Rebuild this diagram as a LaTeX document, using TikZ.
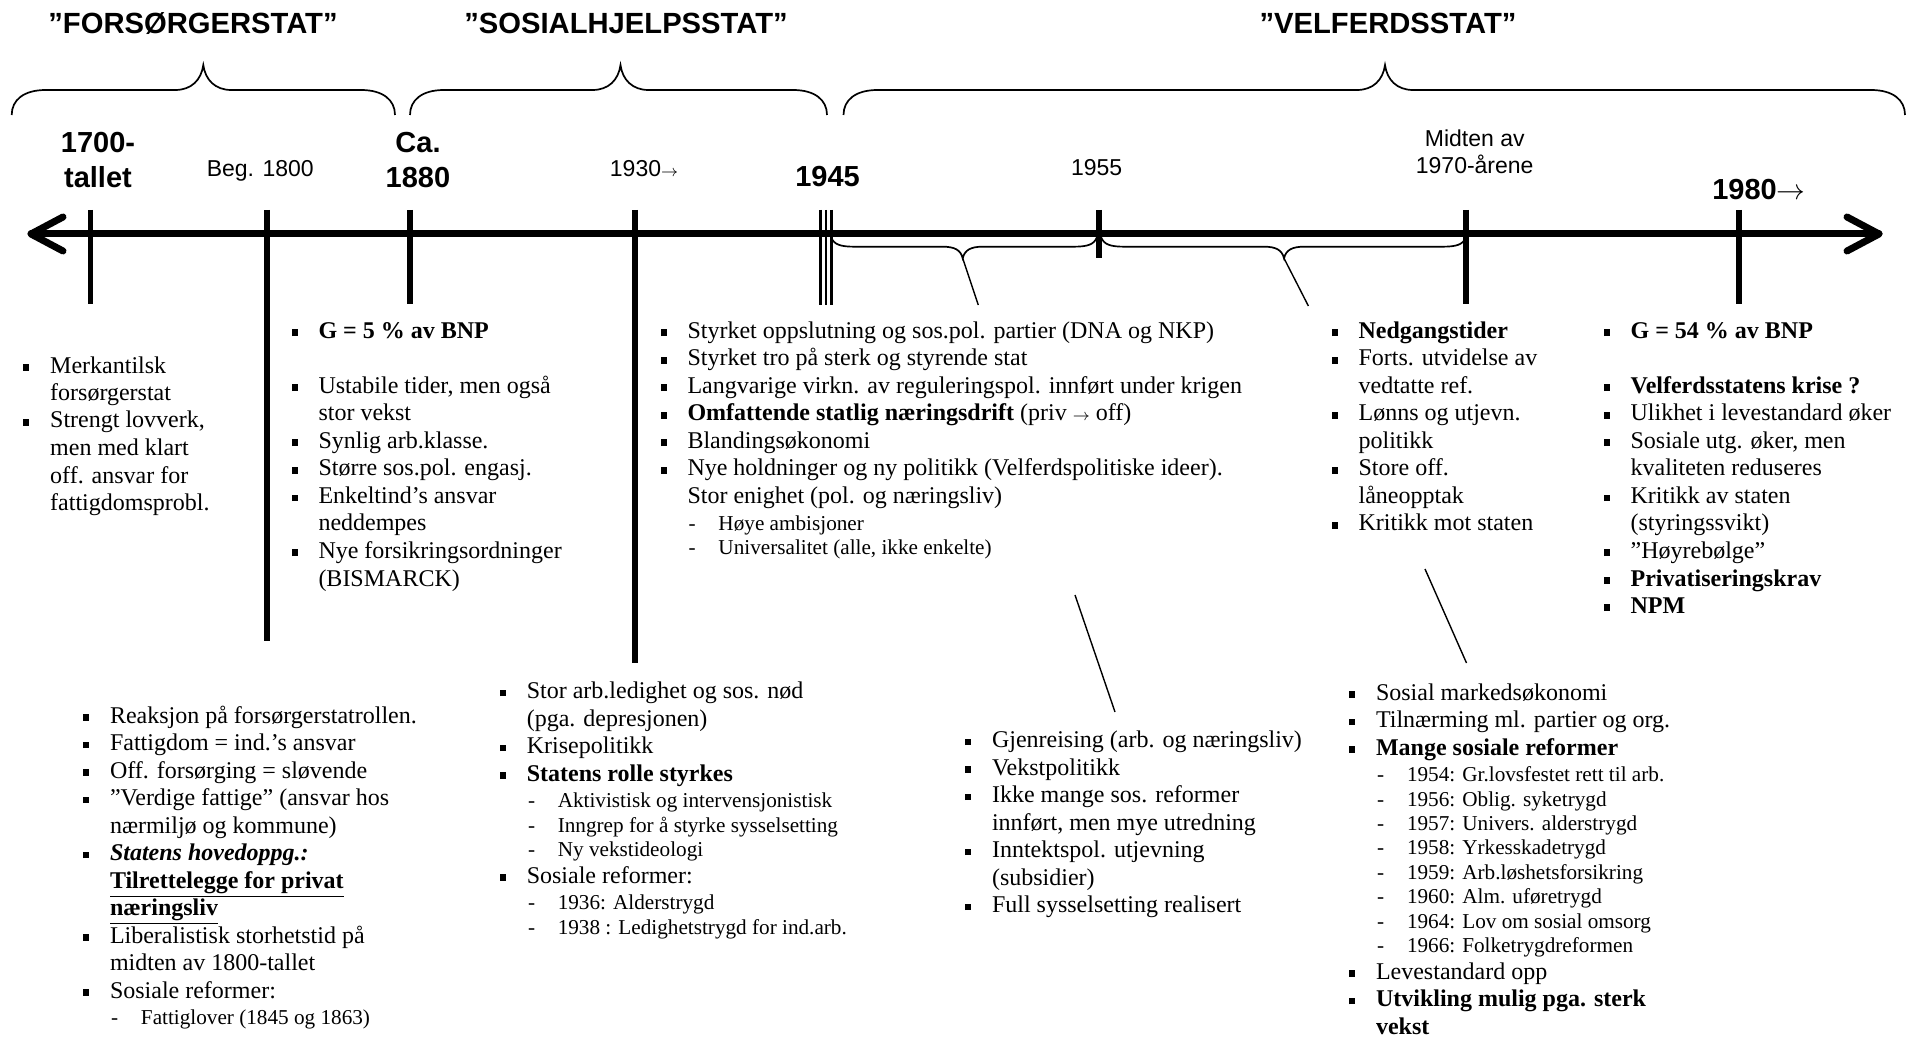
\documentclass[tikz,border=0pt]{standalone}
\usepackage{fontspec}
\setmainfont{Liberation Serif}
\newfontfamily\arial{Liberation Sans}
\usetikzlibrary{calc}

% list typography
\newcommand\mainsize{\fontsize{12.0}{13.75}\selectfont}
\newcommand\subsize{\fontsize{10.6}{12.2}\selectfont}
\newcommand\bulsq{\rule[1.2pt]{3pt}{3.3pt}}
\newcommand\itm[1]{\par\noindent\llap{\bulsq\hspace{10.5pt}}#1}
\newcommand\sitm[1]{\par{\subsize\noindent\hspace*{15.5pt}\llap{\makebox[15.5pt][l]{\hspace{0.6pt}-}}#1\par}}
\newcommand\subon{\par\vspace{1.1pt}}
\newcommand\suboff{\par\vspace{-0.3pt}}
\newcommand\skipline{\par\vspace{13.75pt}}
\newcommand\blocktext[1]{\parbox[t]{420pt}{\mainsize\raggedright #1\par}}

% braces: left end, peak, right end
\newcommand\topbrace[3]{%
  \draw[brc] (#1,115) .. controls (#1,100) and ({#1+12},90) .. ({#1+34},90)
    -- ({#2-28},90) .. controls ({#2-12},90) and ({#2-2},80) .. (#2,65)
    .. controls ({#2+2},80) and ({#2+12},90) .. ({#2+28},90)
    -- ({#3-34},90) .. controls ({#3-12},90) and (#3,100) .. (#3,115);}
\newcommand\lowbrace[3]{%
  \draw[brc] (#1,237) .. controls ({#1+3},245) and ({#1+10},246.7) .. ({#1+24},246.7)
    -- ({#2-20},246.7) .. controls ({#2-8},246.7) and ({#2-2},250) .. (#2,258.3)
    .. controls ({#2+2},250) and ({#2+8},246.7) .. ({#2+20},246.7)
    -- ({#3-24},246.7) .. controls ({#3-10},246.7) and ({#3-3},245) .. (#3,237);}

\begin{document}
\begin{tikzpicture}[x=0.5pt,y=-0.5pt,
  blk/.style={inner sep=0pt, outer sep=0pt, anchor=base west},
  lab/.style={inner sep=0pt, outer sep=0pt, anchor=base, font=\arial\fontsize{11.5}{13.35}\selectfont},
  labb/.style={inner sep=0pt, outer sep=0pt, anchor=base, font=\arial\bfseries\fontsize{14.5}{17.5}\selectfont},
  ttl/.style={inner sep=0pt, outer sep=0pt, anchor=base, font=\arial\bfseries\fontsize{14.6}{17}\selectfont},
  axisline/.style={line width=3.5pt, line cap=round, line join=round},
  tline/.style={line width=2.75pt},
  triline/.style={line width=1.3pt},
  brc/.style={line width=0.85pt},
  conn/.style={line width=0.7pt}]

\fill[white] (0,0) rectangle (1921,1037);
\useasboundingbox (0,0) rectangle (1921,1037);

% period titles
\node[ttl] (tforsorger) at (193,34) {”FORSØRGERSTAT”};
\node[ttl] (tsosial) at (626,34) {”SOSIALHJELPSSTAT”};
\node[ttl] (tvelferd) at (1388,34) {”VELFERDSSTAT”};

% period braces
\topbrace{11.7}{203.3}{395}
\topbrace{410}{620.5}{827}
\topbrace{843.5}{1385}{1905}

% time axis
\coordinate (axl) at (31,234);
\coordinate (axr) at (1879,234);
\draw[axisline] (axl) -- (axr);
\draw[axisline] ($(axl)+(32,-17)$) -- (axl) -- ($(axl)+(32,17)$);
\draw[axisline] ($(axr)+(-32,-17)$) -- (axr) -- ($(axr)+(-32,17)$);

% ticks
\draw[tline] (90.7,210) -- (90.7,304);
\draw[tline] (267,210) -- (267,641);
\draw[tline] (410,210) -- (410,304);
\draw[tline] (635,210) -- (635,663);
\draw[triline] (820.3,210) -- (820.3,305);
\draw[triline] (826,210) -- (826,305);
\draw[triline] (831.7,210) -- (831.7,305);
\draw[tline] (1099,210) -- (1099,258.5);
\draw[tline] (1466,210) -- (1466,304);
\draw[tline] (1739,210) -- (1739,304);

% year labels
\node[labb] (y1700) at (98,153) {\parbox[t]{80pt}{\centering 1700-\\tallet}};
\node[lab] (y1800) at (260.3,176.7) {Beg. 1800};
\node[labb] (y1880) at (418,153) {\parbox[t]{80pt}{\centering Ca.\\1880}};
\node[lab] (y1930) at (644,176.7) {1930$\scriptstyle\rightarrow$};
\node[labb] (y1945) at (827.5,186.7) {1945};
\node[lab] (y1955) at (1096.7,176) {1955};
\node[lab] (y1970) at (1474.7,146.7) {\parbox[t]{100pt}{\centering Midten av\\1970-årene}};
\node[labb] (y1980) at (1759,199.3) {1980$\rightarrow$};

% sub-period braces under the axis
\lowbrace{831}{962.7}{1097}
\lowbrace{1101}{1284}{1466}

% connectors
\coordinate (b1tip) at (962.7,258.3);
\coordinate (b1end) at (978.3,305);
\coordinate (b2tip) at (1284,258.3);
\coordinate (b2end) at (1308.4,306);
\coordinate (h1) at (1075,595);
\coordinate (h2) at (1115,712);
\coordinate (i1) at (1425,569);
\coordinate (i2) at (1466.5,663);
\draw[conn] (b1tip) -- (b1end);
\draw[conn] (b2tip) -- (b2end);
\draw[conn] (h1) -- (h2);
\draw[conn] (i1) -- (i2);

% text blocks above/below
\node[blk] (blk1700) at (50.2,373) {\blocktext{%
\itm{Merkantilsk\\forsørgerstat}
\itm{Strengt lovverk,\\men med klart\\off. ansvar for\\fattigdomsprobl.}}};

\node[blk] (blk1880) at (318.5,338.5) {\blocktext{%
\itm{\textbf{G = 5 \% av BNP}}
\skipline
\itm{Ustabile tider, men også\\stor vekst}
\itm{Synlig arb.klasse.}
\itm{Større sos.pol. engasj.}
\itm{Enkeltind’s ansvar\\neddempes}
\itm{Nye forsikringsordninger\\(BISMARCK)}}};

\node[blk] (blk1945) at (687.5,338.5) {\blocktext{%
\itm{Styrket oppslutning og sos.pol. partier (DNA og NKP)}
\itm{Styrket tro på sterk og styrende stat}
\itm{Langvarige virkn. av reguleringspol. innført under krigen}
\itm{\textbf{Omfattende statlig næringsdrift} (priv $\scriptstyle\rightarrow$ off)}
\itm{Blandingsøkonomi}
\itm{Nye holdninger og ny politikk (Velferdspolitiske ideer).\\Stor enighet (pol. og næringsliv)}
\subon
\sitm{Høye ambisjoner}
\sitm{Universalitet (alle, ikke enkelte)}}};

\node[blk] (blk1970) at (1358.6,338.5) {\blocktext{%
\itm{\textbf{Nedgangstider}}
\itm{Forts. utvidelse av\\vedtatte ref.}
\itm{Lønns og utjevn.\\politikk}
\itm{Store off.\\låneopptak}
\itm{Kritikk mot staten}}};

\node[blk] (blk1980) at (1630.6,338.5) {\blocktext{%
\itm{\textbf{G = 54 \% av BNP}}
\skipline
\itm{\textbf{Velferdsstatens krise ?}}
\itm{Ulikhet i levestandard øker}
\itm{Sosiale utg. øker, men\\kvaliteten reduseres}
\itm{Kritikk av staten\\(styringssvikt)}
\itm{”Høyrebølge”}
\itm{\textbf{Privatiseringskrav}}
\itm{\textbf{NPM}}}};

\node[blk] (blk1800) at (110,723) {\blocktext{%
\itm{Reaksjon på forsørgerstatrollen.}
\itm{Fattigdom = ind.’s ansvar}
\itm{Off. forsørging = sløvende}
\itm{”Verdige fattige” (ansvar hos\\nærmiljø og kommune)}
\itm{\textbf{\textit{Statens hovedoppg.:}}\\\textbf{\underline{Tilrettelegge for privat}}\\\textbf{\underline{næringsliv}}}
\itm{Liberalistisk storhetstid på\\midten av 1800-tallet}
\itm{Sosiale reformer:}
\subon
\sitm{Fattiglover (1845 og 1863)}}};

\node[blk] (blk1930) at (526.8,698.5) {\blocktext{%
\itm{Stor arb.ledighet og sos. nød\\(pga. depresjonen)}
\itm{Krisepolitikk}
\itm{\textbf{Statens rolle styrkes}}
\subon
\sitm{Aktivistisk og intervensjonistisk}
\sitm{Inngrep for å styrke sysselsetting}
\sitm{Ny vekstideologi}
\suboff
\itm{Sosiale reformer:}
\subon
\sitm{1936: Alderstrygd}
\sitm{1938 : Ledighetstrygd for ind.arb.}}};

\node[blk] (blk1955) at (992,747.5) {\blocktext{%
\itm{Gjenreising (arb. og næringsliv)}
\itm{Vekstpolitikk}
\itm{Ikke mange sos. reformer\\innført, men mye utredning}
\itm{Inntektspol. utjevning\\(subsidier)}
\itm{Full sysselsetting realisert}}};

\node[blk] (blk1960) at (1376,700) {\blocktext{%
\itm{Sosial markedsøkonomi}
\itm{Tilnærming ml. partier og org.}
\itm{\textbf{Mange sosiale reformer}}
\subon
\sitm{1954: Gr.lovsfestet rett til arb.}
\sitm{1956: Oblig. syketrygd}
\sitm{1957: Univers. alderstrygd}
\sitm{1958: Yrkesskadetrygd}
\sitm{1959: Arb.løshetsforsikring}
\sitm{1960: Alm. uføretrygd}
\sitm{1964: Lov om sosial omsorg}
\sitm{1966: Folketrygdreformen}
\suboff
\itm{Levestandard opp}
\itm{\textbf{Utvikling mulig pga. sterk}\\\textbf{vekst}}}};

\end{tikzpicture}
\end{document}
